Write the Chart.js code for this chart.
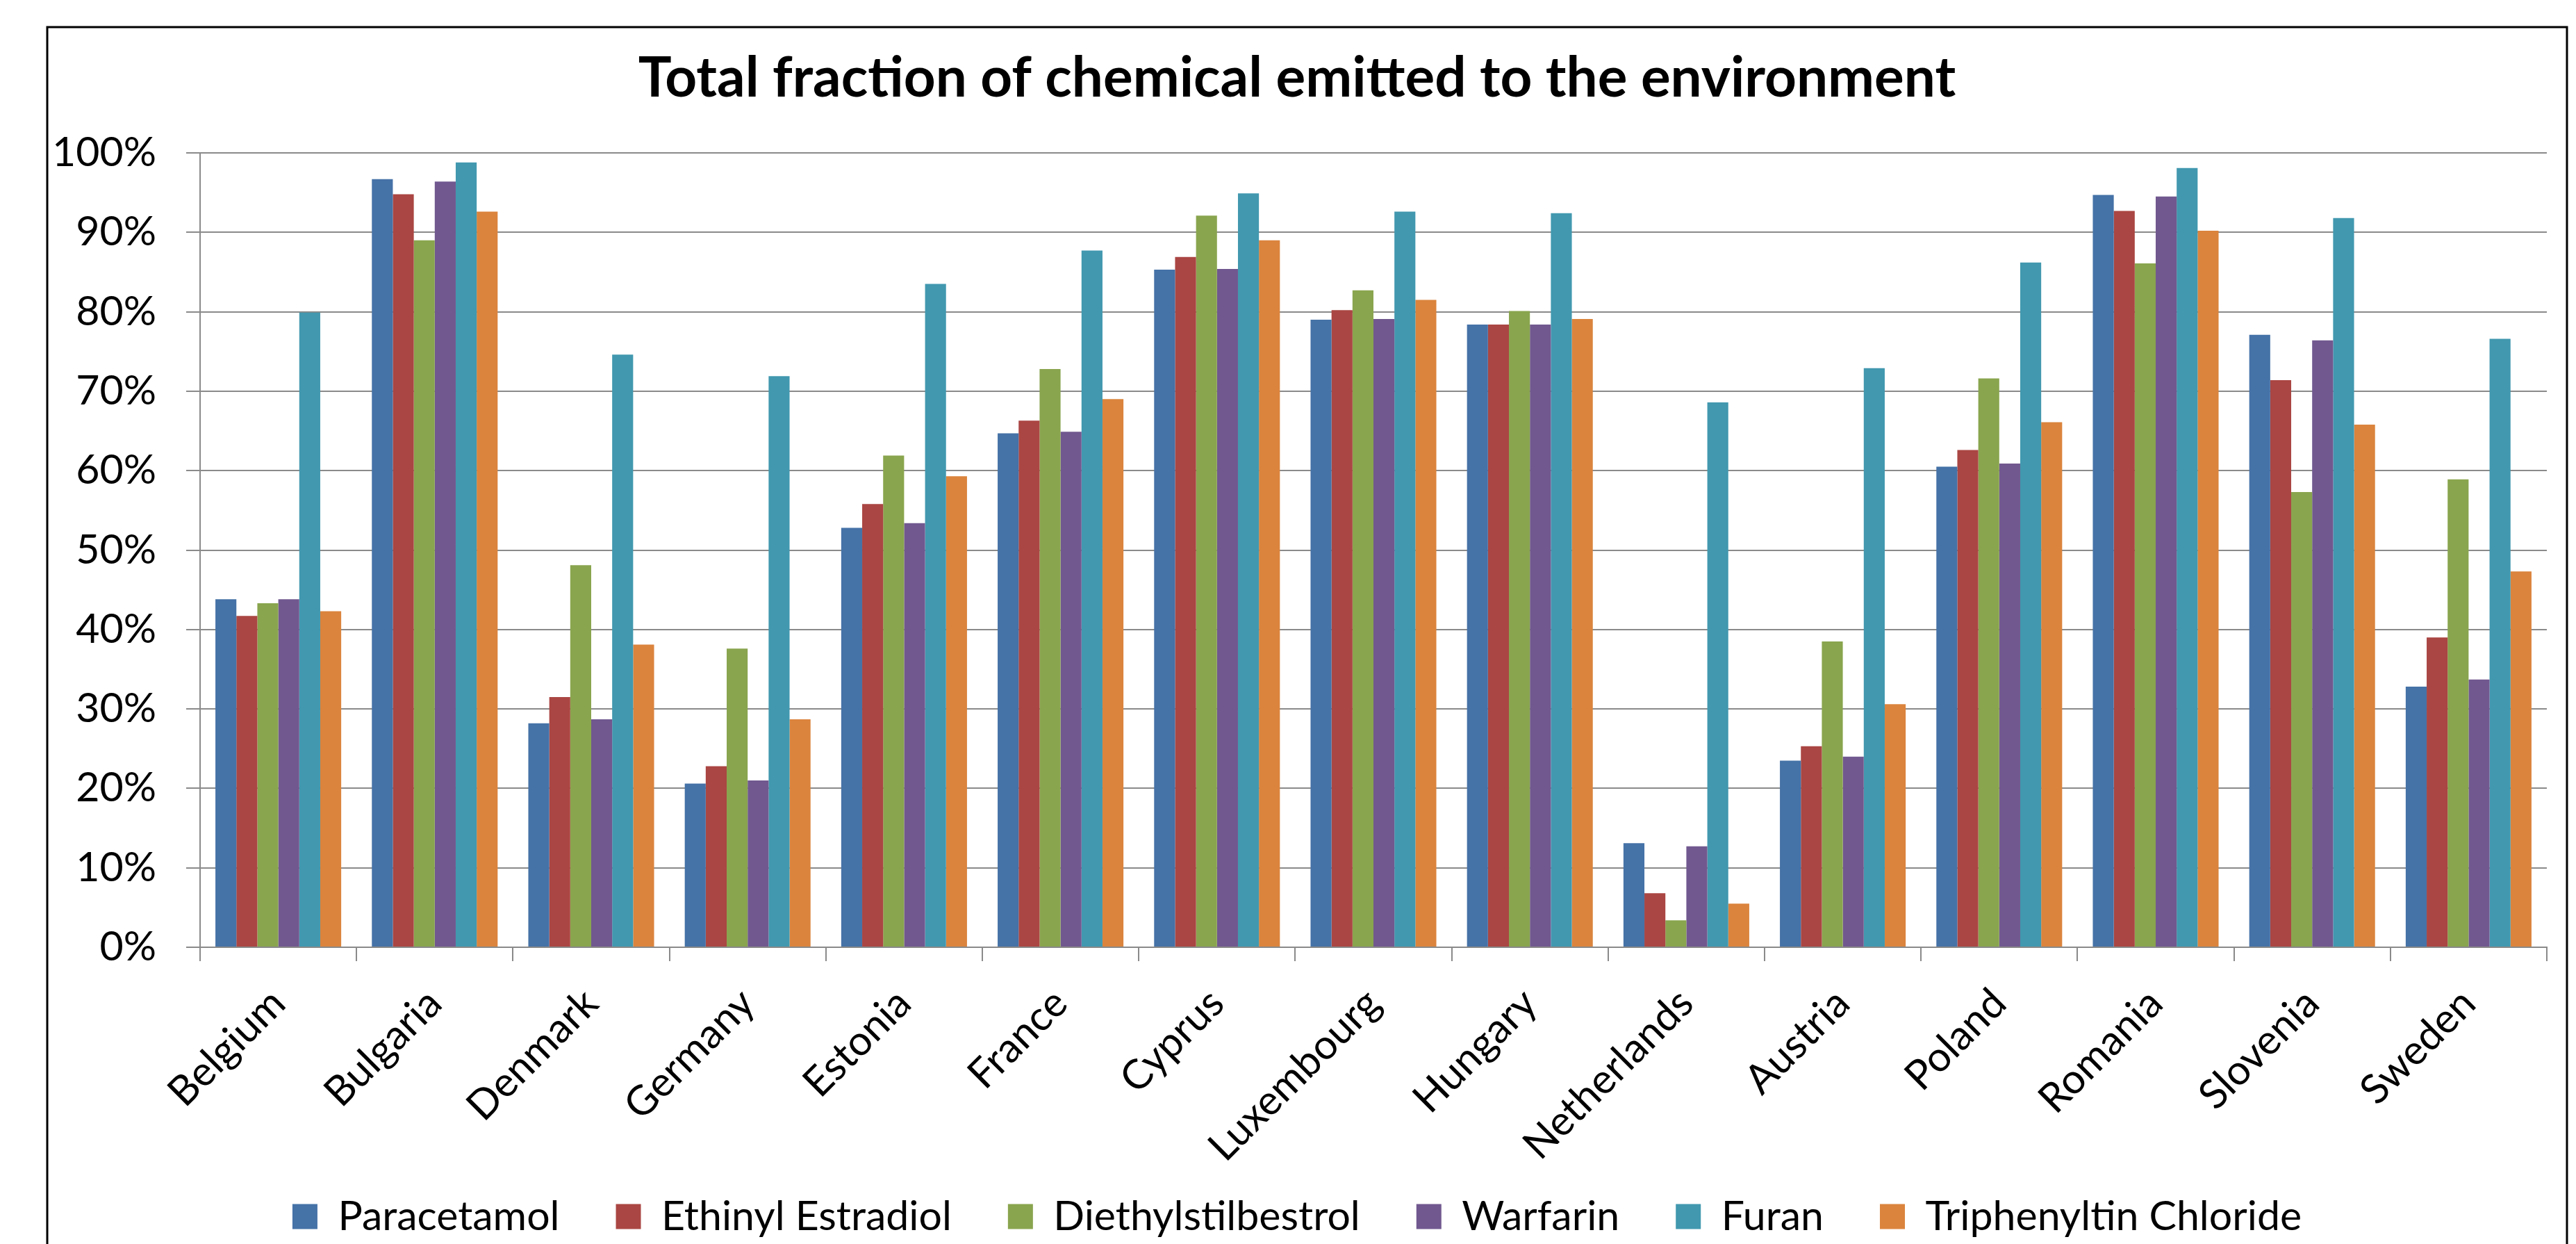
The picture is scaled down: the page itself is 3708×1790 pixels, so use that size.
<!DOCTYPE html>
<html>
<head>
<meta charset="utf-8">
<title>Total fraction of chemical emitted to the environment</title>
<script src="https://cdn.jsdelivr.net/npm/chart.js@4/dist/chart.umd.min.js"></script>
<style>
  html, body { margin: 0; padding: 0; background: #ffffff; overflow: hidden; }
  #wrap { width: 3708px; height: 1790px; position: relative; }
  canvas { display: block; }
</style>
</head>
<body>
<div id="wrap"><canvas id="chart" width="3708" height="1790"></canvas></div>
<script>
// Countries along the x axis
const categories = ['Belgium', 'Bulgaria', 'Denmark', 'Germany', 'Estonia', 'France', 'Cyprus',
  'Luxembourg', 'Hungary', 'Netherlands', 'Austria', 'Poland', 'Romania', 'Slovenia', 'Sweden'];

// Fraction emitted to the environment, in percent, per chemical
const paracetamol       = [43.8, 96.7, 28.2, 20.6, 52.8, 64.7, 85.3, 79.0, 78.4, 13.1, 23.5, 60.5, 94.7, 77.1, 32.8];
const ethinylEstradiol  = [41.7, 94.8, 31.5, 22.8, 55.8, 66.3, 86.9, 80.2, 78.4,  6.8, 25.3, 62.6, 92.7, 71.4, 39.0];
const diethylstilbestrol= [43.3, 89.0, 48.1, 37.6, 61.9, 72.8, 92.1, 82.7, 80.1,  3.4, 38.5, 71.6, 86.1, 57.3, 58.9];
const warfarin          = [43.8, 96.4, 28.7, 21.0, 53.4, 64.9, 85.4, 79.1, 78.4, 12.7, 24.0, 60.9, 94.5, 76.4, 33.7];
const furan             = [79.9, 98.8, 74.6, 71.9, 83.5, 87.7, 94.9, 92.6, 92.4, 68.6, 72.9, 86.2, 98.1, 91.8, 76.6];
const triphenyltinChloride = [42.3, 92.6, 38.1, 28.7, 59.3, 69.0, 89.0, 81.5, 79.1, 5.5, 30.6, 66.1, 90.2, 65.8, 47.3];

const seriesNames = ['Paracetamol', 'Ethinyl Estradiol', 'Diethylstilbestrol', 'Warfarin', 'Furan', 'Triphenyltin Chloride'];
const seriesValues = [paracetamol, ethinylEstradiol, diethylstilbestrol, warfarin, furan, triphenyltinChloride];
const seriesColors = ['#4572A7', '#AA4643', '#89A54E', '#71588F', '#4198AF', '#DB843D'];

// Y axis runs 0% .. 100% in 10% steps
const yMin = 0, yMax = 100, yStep = 10;

const FONT = 'Lato, "Open Sans", sans-serif';
const AXIS_GREY = '#8a8a8a';

// Outer chart frame and white background
const framePlugin = {
  id: 'frame',
  beforeDraw(chart) {
    const ctx = chart.ctx;
    ctx.save();
    ctx.fillStyle = '#ffffff';
    ctx.fillRect(0, 0, chart.width, chart.height);
    ctx.strokeStyle = '#000000';
    ctx.lineWidth = 3;
    ctx.strokeRect(68, 39, 3695 - 68, chart.height + 20);
    ctx.restore();
  }
};

// Long rotated country names run down past the axis box into the legend band;
// let the category labels use the full height below the axis.
const labelRoomPlugin = {
  id: 'labelRoom',
  afterLayout(chart) {
    const x = chart.scales.x;
    if (x) x.bottom = chart.height;
  }
};

new Chart(document.getElementById('chart'), {
  type: 'bar',
  data: {
    labels: categories,
    datasets: seriesNames.map((name, i) => ({
      label: name,
      data: seriesValues[i],
      backgroundColor: seriesColors[i],
      borderWidth: 0,
      barPercentage: 1.0,
      categoryPercentage: 0.804
    }))
  },
  options: {
    responsive: false,
    animation: false,
    devicePixelRatio: 1,
    layout: { padding: { left: 68, right: 42, top: 0, bottom: 0 } },
    plugins: {
      title: {
        display: true,
        text: 'Total fraction of chemical emitted to the environment',
        color: '#000000',
        font: { family: FONT, size: 80, weight: 'bold' },
        padding: { top: 65, bottom: 59 }
      },
      legend: {
        display: true,
        position: 'bottom',
        labels: {
          color: '#000000',
          font: { family: FONT, size: 59 },
          boxWidth: 36,
          boxHeight: 36,
          padding: 81
        }
      },
      tooltip: { enabled: false }
    },
    scales: {
      x: {
        grid: {
          display: true,
          drawOnChartArea: false,
          drawTicks: true,
          tickLength: 20,
          color: AXIS_GREY,
          lineWidth: 2
        },
        border: { display: true, color: AXIS_GREY, width: 2 },
        ticks: {
          color: '#000000',
          font: { family: FONT, size: 59 },
          autoSkip: false,
          minRotation: 45,
          maxRotation: 45,
          padding: 26
        },
        afterFit(scale) { scale.height = 277; }
      },
      y: {
        min: yMin,
        max: yMax,
        grid: {
          display: true,
          drawTicks: true,
          tickLength: 20,
          color: AXIS_GREY,
          lineWidth: 2
        },
        border: { display: true, color: AXIS_GREY, width: 2 },
        ticks: {
          stepSize: yStep,
          color: '#000000',
          font: { family: FONT, size: 59 },
          padding: 43,
          callback: (v) => v + '%'
        },
        afterFit(scale) { scale.width = 220; }
      }
    }
  },
  plugins: [framePlugin, labelRoomPlugin]
});
</script>
</body>
</html>
